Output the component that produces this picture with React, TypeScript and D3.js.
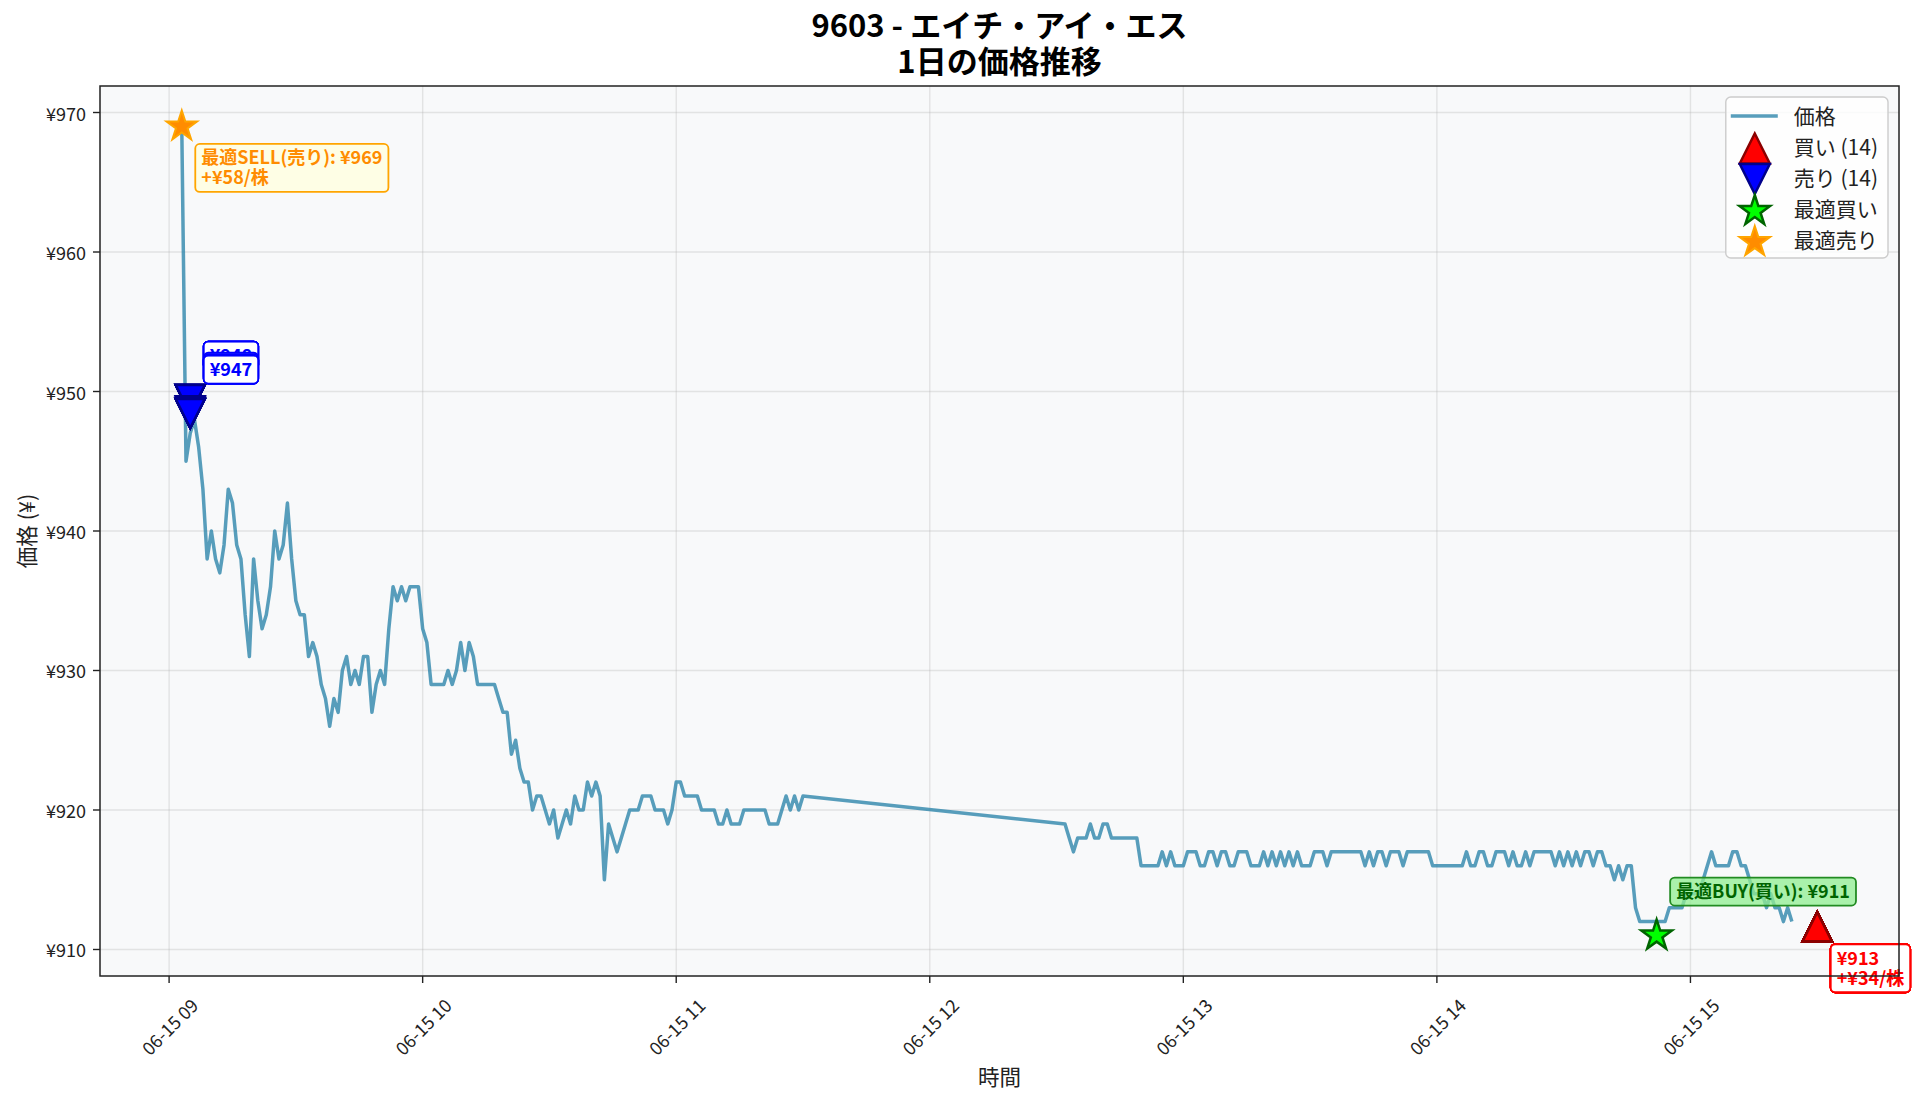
import React, { useEffect, useRef } from 'react';
import * as d3 from 'd3';

// ---- data ----
const DAY = '2024-06-15';
const titleLines = ['9603 - エイチ・アイ・エス', '1日の価格推移'];

// minute closes, one list per hour
const prices09: [string, number][] = [
  ['09:03', 969], ['09:04', 945], ['09:05', 947], ['09:06', 948], ['09:07', 946], ['09:08', 943],
  ['09:09', 938], ['09:10', 940], ['09:11', 938], ['09:12', 937], ['09:13', 939], ['09:14', 943],
  ['09:15', 942], ['09:16', 939], ['09:17', 938], ['09:18', 934], ['09:19', 931], ['09:20', 938],
  ['09:21', 935], ['09:22', 933], ['09:23', 934], ['09:24', 936], ['09:25', 940], ['09:26', 938],
  ['09:27', 939], ['09:28', 942], ['09:29', 938], ['09:30', 935], ['09:31', 934], ['09:32', 934],
  ['09:33', 931], ['09:34', 932], ['09:35', 931], ['09:36', 929], ['09:37', 928], ['09:38', 926],
  ['09:39', 928], ['09:40', 927], ['09:41', 930], ['09:42', 931], ['09:43', 929], ['09:44', 930],
  ['09:45', 929], ['09:46', 931], ['09:47', 931], ['09:48', 927], ['09:49', 929], ['09:50', 930],
  ['09:51', 929], ['09:52', 933], ['09:53', 936], ['09:54', 935], ['09:55', 936], ['09:56', 935],
  ['09:57', 936], ['09:58', 936], ['09:59', 936],
];
const prices10: [string, number][] = [
  ['10:00', 933], ['10:01', 932], ['10:02', 929], ['10:03', 929], ['10:04', 929], ['10:05', 929],
  ['10:06', 930], ['10:07', 929], ['10:08', 930], ['10:09', 932], ['10:10', 930], ['10:11', 932],
  ['10:12', 931], ['10:13', 929], ['10:14', 929], ['10:15', 929], ['10:16', 929], ['10:17', 929],
  ['10:18', 928], ['10:19', 927], ['10:20', 927], ['10:21', 924], ['10:22', 925], ['10:23', 923],
  ['10:24', 922], ['10:25', 922], ['10:26', 920], ['10:27', 921], ['10:28', 921], ['10:29', 920],
  ['10:30', 919], ['10:31', 920], ['10:32', 918], ['10:33', 919], ['10:34', 920], ['10:35', 919],
  ['10:36', 921], ['10:37', 920], ['10:38', 920], ['10:39', 922], ['10:40', 921], ['10:41', 922],
  ['10:42', 921], ['10:43', 915], ['10:44', 919], ['10:45', 918], ['10:46', 917], ['10:47', 918],
  ['10:48', 919], ['10:49', 920], ['10:50', 920], ['10:51', 920], ['10:52', 921], ['10:53', 921],
  ['10:54', 921], ['10:55', 920], ['10:56', 920], ['10:57', 920], ['10:58', 919], ['10:59', 920],
];
const prices11: [string, number][] = [
  ['11:00', 922], ['11:01', 922], ['11:02', 921], ['11:03', 921], ['11:04', 921], ['11:05', 921],
  ['11:06', 920], ['11:07', 920], ['11:08', 920], ['11:09', 920], ['11:10', 919], ['11:11', 919],
  ['11:12', 920], ['11:13', 919], ['11:14', 919], ['11:15', 919], ['11:16', 920], ['11:17', 920],
  ['11:18', 920], ['11:19', 920], ['11:20', 920], ['11:21', 920], ['11:22', 919], ['11:23', 919],
  ['11:24', 919], ['11:25', 920], ['11:26', 921], ['11:27', 920], ['11:28', 921], ['11:29', 920],
  ['11:30', 921],
];
const prices12: [string, number][] = [
  ['12:32', 919], ['12:33', 918], ['12:34', 917], ['12:35', 918], ['12:36', 918], ['12:37', 918],
  ['12:38', 919], ['12:39', 918], ['12:40', 918], ['12:41', 919], ['12:42', 919], ['12:43', 918],
  ['12:44', 918], ['12:45', 918], ['12:46', 918], ['12:47', 918], ['12:48', 918], ['12:49', 918],
  ['12:50', 916], ['12:51', 916], ['12:52', 916], ['12:53', 916], ['12:54', 916], ['12:55', 917],
  ['12:56', 916], ['12:57', 917], ['12:58', 916], ['12:59', 916],
];
const prices13: [string, number][] = [
  ['13:00', 916], ['13:01', 917], ['13:02', 917], ['13:03', 917], ['13:04', 916], ['13:05', 916],
  ['13:06', 917], ['13:07', 917], ['13:08', 916], ['13:09', 917], ['13:10', 917], ['13:11', 916],
  ['13:12', 916], ['13:13', 917], ['13:14', 917], ['13:15', 917], ['13:16', 916], ['13:17', 916],
  ['13:18', 916], ['13:19', 917], ['13:20', 916], ['13:21', 917], ['13:22', 916], ['13:23', 917],
  ['13:24', 916], ['13:25', 917], ['13:26', 916], ['13:27', 917], ['13:28', 916], ['13:29', 916],
  ['13:30', 916], ['13:31', 917], ['13:32', 917], ['13:33', 917], ['13:34', 916], ['13:35', 917],
  ['13:36', 917], ['13:37', 917], ['13:38', 917], ['13:39', 917], ['13:40', 917], ['13:41', 917],
  ['13:42', 917], ['13:43', 916], ['13:44', 917], ['13:45', 916], ['13:46', 917], ['13:47', 917],
  ['13:48', 916], ['13:49', 917], ['13:50', 917], ['13:51', 917], ['13:52', 916], ['13:53', 917],
  ['13:54', 917], ['13:55', 917], ['13:56', 917], ['13:57', 917], ['13:58', 917], ['13:59', 916],
];
const prices14: [string, number][] = [
  ['14:00', 916], ['14:01', 916], ['14:02', 916], ['14:03', 916], ['14:04', 916], ['14:05', 916],
  ['14:06', 916], ['14:07', 917], ['14:08', 916], ['14:09', 916], ['14:10', 917], ['14:11', 917],
  ['14:12', 916], ['14:13', 916], ['14:14', 917], ['14:15', 917], ['14:16', 917], ['14:17', 916],
  ['14:18', 917], ['14:19', 916], ['14:20', 916], ['14:21', 917], ['14:22', 916], ['14:23', 917],
  ['14:24', 917], ['14:25', 917], ['14:26', 917], ['14:27', 917], ['14:28', 916], ['14:29', 917],
  ['14:30', 916], ['14:31', 917], ['14:32', 916], ['14:33', 917], ['14:34', 916], ['14:35', 917],
  ['14:36', 917], ['14:37', 916], ['14:38', 917], ['14:39', 917], ['14:40', 916], ['14:41', 916],
  ['14:42', 915], ['14:43', 916], ['14:44', 915], ['14:45', 916], ['14:46', 916], ['14:47', 913],
  ['14:48', 912], ['14:49', 912], ['14:50', 912], ['14:51', 912], ['14:52', 912], ['14:53', 912],
  ['14:54', 912], ['14:55', 913], ['14:56', 913], ['14:57', 913], ['14:58', 913], ['14:59', 914],
];
const prices15: [string, number][] = [
  ['15:00', 914], ['15:01', 914], ['15:02', 914], ['15:03', 915], ['15:04', 916], ['15:05', 917],
  ['15:06', 916], ['15:07', 916], ['15:08', 916], ['15:09', 916], ['15:10', 917], ['15:11', 917],
  ['15:12', 916], ['15:13', 916], ['15:14', 915], ['15:15', 914], ['15:16', 914], ['15:17', 914],
  ['15:18', 913], ['15:19', 914], ['15:20', 913], ['15:21', 913], ['15:22', 912], ['15:23', 913],
  ['15:24', 912],
];

// trades (all 14 of each land on nearly the same spot)
const sellTimes = ['09:05', '09:05', '09:05', '09:05', '09:05', '09:05', '09:05',
  '09:05', '09:05', '09:05', '09:05', '09:05', '09:05', '09:05'];
const sellPrices = [948, 948, 948, 948, 948, 948, 948, 947.2, 947.1, 947, 947, 947, 947, 947];
const buyTimes = ['15:30', '15:30', '15:30', '15:30', '15:30', '15:30', '15:30',
  '15:30', '15:30', '15:30', '15:30', '15:30', '15:30', '15:30'];
const buyPrices = [913, 913, 913, 913, 913, 913, 913, 913, 913, 913, 913, 913, 913, 913];

const bestSell: [string, number] = ['09:03', 969];
const bestBuy: [string, number] = ['14:52', 911];

const yTicks = [910, 920, 930, 940, 950, 960, 970];
const xTickTimes = ['09:00', '10:00', '11:00', '12:00', '13:00', '14:00', '15:00'];

const FONT = "'Noto Sans CJK JP', 'Noto Sans', sans-serif";

// star like matplotlib '*'
const starPath = (R: number) => {
  const r = R * 0.381966;
  const pts = d3.range(10).map((i) => {
    const a = -Math.PI / 2 + (i * Math.PI) / 5;
    const rad = i % 2 === 0 ? R : r;
    return `${(rad * Math.cos(a)).toFixed(2)},${(rad * Math.sin(a)).toFixed(2)}`;
  });
  return 'M' + pts.join('L') + 'Z';
};
const triPath = (h: number, up: boolean) =>
  up ? `M0,${-h}L${h},${h}L${-h},${h}Z` : `M0,${h}L${h},${-h}L${-h},${-h}Z`;

const drawChart = (svgEl: SVGSVGElement) => {
  const svg = d3.select(svgEl);
  svg.selectAll('*').remove();

  // axes box
  const plotL = 100, plotR = 1899, plotT = 86, plotB = 976;

  const parse = d3.timeParse('%Y-%m-%d %H:%M');
  const toDate = (t: string) => parse(`${DAY} ${t}`) as Date;

  const series = [...prices09, ...prices10, ...prices11, ...prices12, ...prices13, ...prices14, ...prices15]
    .map(([t, v]) => ({ date: toDate(t), price: v }));
  // markers sit slightly above/below the traded price
  const sells = sellTimes.map((t, i) => ({ date: toDate(t), price: sellPrices[i], mark: sellPrices[i] * 1.0015 }));
  const buys = buyTimes.map((t, i) => ({ date: toDate(t), price: buyPrices[i], mark: buyPrices[i] * 0.9985 }));
  const bs = { date: toDate(bestSell[0]), price: bestSell[1] };
  const bb = { date: toDate(bestBuy[0]), price: bestBuy[1] };

  // matplotlib style 5% margins
  const allDates = [...series.map((d) => +d.date), ...sells.map((d) => +d.date), ...buys.map((d) => +d.date), +bs.date, +bb.date];
  const allVals = [...series.map((d) => d.price), ...sells.map((d) => d.mark), ...buys.map((d) => d.mark), bs.price, bb.price];
  const [t0, t1] = d3.extent(allDates) as [number, number];
  const [v0, v1] = d3.extent(allVals) as [number, number];
  const tp = (t1 - t0) * 0.05, vp = (v1 - v0) * 0.05;

  const x = d3.scaleTime().domain([new Date(t0 - tp), new Date(t1 + tp)]).range([plotL, plotR]);
  const y = d3.scaleLinear().domain([v0 - vp, v1 + vp]).range([plotB, plotT]);

  svg.append('rect').attr('width', 1920).attr('height', 1102).attr('fill', '#ffffff');
  svg.append('rect').attr('x', plotL).attr('y', plotT).attr('width', plotR - plotL).attr('height', plotB - plotT).attr('fill', '#f8f9fa');

  // grid
  const grid = svg.append('g').attr('stroke', '#b0b0b0').attr('stroke-opacity', 0.3).attr('stroke-width', 1.4);
  xTickTimes.forEach((t) => {
    const xx = x(toDate(t));
    grid.append('line').attr('x1', xx).attr('x2', xx).attr('y1', plotT).attr('y2', plotB);
  });
  yTicks.forEach((v) => {
    grid.append('line').attr('x1', plotL).attr('x2', plotR).attr('y1', y(v)).attr('y2', y(v));
  });

  // price line
  const line = d3.line<{ date: Date; price: number }>().x((d) => x(d.date)).y((d) => y(d.price));
  svg.append('path').datum(series).attr('d', line).attr('fill', 'none')
    .attr('stroke', '#2E86AB').attr('stroke-opacity', 0.8).attr('stroke-width', 3.5)
    .attr('stroke-linejoin', 'round');

  // trade markers
  const marks = svg.append('g');
  sells.forEach((d) => {
    marks.append('path').attr('d', triPath(14.5, false)).attr('transform', `translate(${x(d.date)},${y(d.mark)})`)
      .attr('fill', '#0000ff').attr('stroke', '#00008b').attr('stroke-width', 2.5);
  });
  buys.forEach((d) => {
    marks.append('path').attr('d', triPath(14.5, true)).attr('transform', `translate(${x(d.date)},${y(d.mark)})`)
      .attr('fill', '#ff0000').attr('stroke', '#8b0000').attr('stroke-width', 2.5);
  });
  marks.append('path').attr('d', starPath(16)).attr('transform', `translate(${x(bb.date)},${y(bb.price)})`)
    .attr('fill', '#00ff00').attr('stroke', '#006400').attr('stroke-width', 2.5);
  marks.append('path').attr('d', starPath(16)).attr('transform', `translate(${x(bs.date)},${y(bs.price)})`)
    .attr('fill', '#ff8c00').attr('stroke', '#ffa500').attr('stroke-width', 2);

  // annotation boxes
  const notes = svg.append('g');
  const addLabel = (px: number, py: number, lines: string[],
    s: { color: string; fill: string; fillOpacity: number; stroke: string }, above: boolean) => {
    const fs = 18, lineH = 20, padX = 6, padY = 5;
    const g = notes.append('g');
    const rect = g.append('rect');
    const texts = lines.map((l) => g.append('text').attr('font-family', FONT).attr('font-size', fs)
      .attr('font-weight', 'bold').attr('fill', s.color).text(l));
    const w = d3.max(texts, (t) => (t.node() as SVGTextElement).getComputedTextLength()) as number;
    const bw = w + padX * 2;
    const bh = fs + lineH * (lines.length - 1) + padY * 2;
    const bx = px + 13.5;
    const by = above ? py - 30 - bh : py + 17.5;
    rect.attr('x', bx).attr('y', by).attr('width', bw).attr('height', bh).attr('rx', 4.5)
      .attr('fill', s.fill).attr('fill-opacity', s.fillOpacity).attr('stroke', s.stroke).attr('stroke-width', 1.8);
    texts.forEach((t, i) => t.attr('x', bx + padX).attr('y', by + padY + fs * 0.86 + i * lineH));
  };

  sells.forEach((d) => {
    addLabel(x(d.date), y(d.mark), [`¥${Math.round(d.price)}`],
      { color: '#0000ff', fill: '#ffffff', fillOpacity: 0.8, stroke: '#0000ff' }, true);
  });
  buys.forEach((d, i) => {
    addLabel(x(d.date), y(d.mark), [`¥${d.price}`, `+¥${Math.round(sellPrices[i] - d.price)}/株`],
      { color: '#ff0000', fill: '#ffffff', fillOpacity: 0.9, stroke: '#ff0000' }, false);
  });
  addLabel(x(bb.date), y(bb.price), [`最適BUY(買い): ¥${bb.price}`],
    { color: '#006400', fill: '#90ee90', fillOpacity: 0.75, stroke: '#228b22' }, true);
  addLabel(x(bs.date), y(bs.price), [`最適SELL(売り): ¥${bs.price}`, `+¥${bs.price - bb.price}/株`],
    { color: '#ff8c00', fill: '#ffffe0', fillOpacity: 0.8, stroke: '#ffa500' }, false);

  // spines
  svg.append('rect').attr('x', plotL).attr('y', plotT).attr('width', plotR - plotL).attr('height', plotB - plotT)
    .attr('fill', 'none').attr('stroke', '#222').attr('stroke-width', 1.5);

  // ticks
  const axes = svg.append('g').attr('font-family', FONT).attr('fill', '#222');
  yTicks.forEach((v) => {
    axes.append('line').attr('x1', plotL - 7).attr('x2', plotL).attr('y1', y(v)).attr('y2', y(v))
      .attr('stroke', '#222').attr('stroke-width', 1.4);
    axes.append('text').attr('x', plotL - 14).attr('y', y(v)).attr('text-anchor', 'end')
      .attr('dominant-baseline', 'central').attr('font-size', 18).text(`¥${v}`);
  });
  const fmt = d3.timeFormat('%m-%d %H');
  xTickTimes.forEach((t) => {
    const xx = x(toDate(t));
    axes.append('line').attr('x1', xx).attr('x2', xx).attr('y1', plotB).attr('y2', plotB + 7)
      .attr('stroke', '#222').attr('stroke-width', 1.4);
    axes.append('text').attr('transform', `translate(${xx},${plotB + 50}) rotate(-45)`)
      .attr('text-anchor', 'middle').attr('dominant-baseline', 'central').attr('font-size', 18)
      .text(fmt(toDate(t)));
  });

  // axis titles
  axes.append('text').attr('x', (plotL + plotR) / 2).attr('y', 1075).attr('text-anchor', 'middle')
    .attr('dominant-baseline', 'central').attr('font-size', 21.5).text('時間');
  axes.append('text').attr('transform', `translate(25,${(plotT + plotB) / 2}) rotate(-90)`)
    .attr('text-anchor', 'middle').attr('dominant-baseline', 'central').attr('font-size', 21.5).text('価格 (¥)');

  // title
  titleLines.forEach((l, i) => {
    axes.append('text').attr('x', (plotL + plotR) / 2).attr('y', 37 + i * 36).attr('text-anchor', 'middle')
      .attr('font-size', 31).attr('font-weight', 'bold').attr('fill', '#000').text(l);
  });

  // legend
  const leg = svg.append('g').attr('font-family', FONT);
  const legBox = leg.append('rect');
  const items = [
    { label: '価格', kind: 'line' },
    { label: `買い (${buys.length})`, kind: 'buy' },
    { label: `売り (${sells.length})`, kind: 'sell' },
    { label: '最適買い', kind: 'bestBuy' },
    { label: '最適売り', kind: 'bestSell' },
  ];
  const texts = items.map((it) => leg.append('text').attr('font-size', 21).attr('fill', '#222')
    .attr('dominant-baseline', 'central').text(it.label));
  const tw = d3.max(texts, (t) => (t.node() as SVGTextElement).getComputedTextLength()) as number;
  const boxR = plotR - 11, boxT = plotT + 11;
  const boxL = boxR - 10 - tw - 68;
  legBox.attr('x', boxL).attr('y', boxT).attr('width', boxR - boxL).attr('height', 161).attr('rx', 5)
    .attr('fill', '#ffffff').attr('fill-opacity', 0.8).attr('stroke', '#cccccc').attr('stroke-width', 1.4);
  items.forEach((it, i) => {
    const ry = boxT + 19 + i * 31;
    const hx = boxL + 29;
    texts[i].attr('x', boxL + 68).attr('y', ry - 1);
    if (it.kind === 'line') {
      leg.append('line').attr('x1', boxL + 5).attr('x2', boxL + 52).attr('y1', ry).attr('y2', ry)
        .attr('stroke', '#2E86AB').attr('stroke-opacity', 0.8).attr('stroke-width', 3.5);
    } else if (it.kind === 'buy') {
      leg.append('path').attr('d', triPath(15, true)).attr('transform', `translate(${hx},${ry + 1.5})`)
        .attr('fill', '#ff0000').attr('stroke', '#8b0000').attr('stroke-width', 2.5);
    } else if (it.kind === 'sell') {
      leg.append('path').attr('d', triPath(15, false)).attr('transform', `translate(${hx},${ry + 1})`)
        .attr('fill', '#0000ff').attr('stroke', '#00008b').attr('stroke-width', 2.5);
    } else if (it.kind === 'bestBuy') {
      leg.append('path').attr('d', starPath(16)).attr('transform', `translate(${hx},${ry + 2})`)
        .attr('fill', '#00ff00').attr('stroke', '#006400').attr('stroke-width', 2.5);
    } else {
      leg.append('path').attr('d', starPath(16)).attr('transform', `translate(${hx},${ry + 2})`)
        .attr('fill', '#ff8c00').attr('stroke', '#ffa500').attr('stroke-width', 2);
    }
  });
};

const App = () => {
  const ref = useRef<SVGSVGElement>(null);

  useEffect(() => {
    if (ref.current) drawChart(ref.current);
  }, []);

  return (
    <svg ref={ref} width={1920} height={1102}
      style={{ position: 'absolute', left: 0, top: 0, display: 'block' }} />
  );
};

export default App;
